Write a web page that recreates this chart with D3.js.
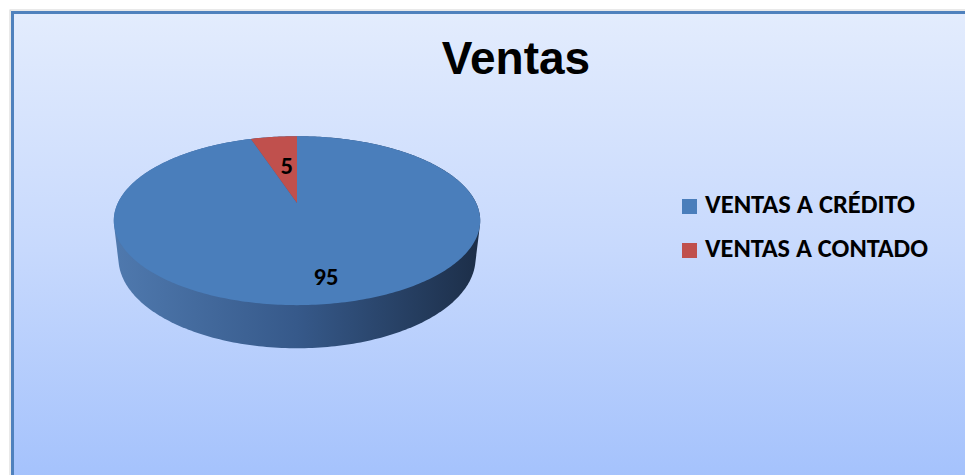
<!DOCTYPE html>
<html lang="es">
  <head>
    <meta charset="utf-8" />
    <title>Ventas</title>
    <script src="https://d3js.org/d3.v7.min.js"></script>
    <style>
      body { margin: 0; background: #fff; }
      svg { display: block; }
    </style>
  </head>
  <body>
    <div id="container"></div>
    <script>
      var title = "Ventas";
      var categories = ["VENTAS A CRÉDITO", "VENTAS A CONTADO"];
      var values = [95, 5];
      var colors = ["#4a7ebb", "#c0504d"];

      var width = 965;
      var height = 475;
      var bodyFont = "Carlito, Calibri, Lato, sans-serif";

      var svg = d3
        .select("#container")
        .append("svg")
        .attr("width", width)
        .attr("height", height);

      var defs = svg.append("defs");

      var bg = defs
        .append("linearGradient")
        .attr("id", "bg")
        .attr("x1", "0%").attr("y1", "0%")
        .attr("x2", "0%").attr("y2", "100%");
      bg.append("stop").attr("offset", "0%").attr("stop-color", "#e3ecfd");
      bg.append("stop").attr("offset", "50%").attr("stop-color", "#c7d9fd");
      bg.append("stop").attr("offset", "100%").attr("stop-color", "#a3c1fc");

      var side = defs
        .append("linearGradient")
        .attr("id", "side")
        .attr("gradientUnits", "userSpaceOnUse")
        .attr("x1", 114).attr("y1", 0)
        .attr("x2", 480).attr("y2", 0);
      side.append("stop").attr("offset", "0%").attr("stop-color", "#4f79ae");
      side.append("stop").attr("offset", "50%").attr("stop-color", "#36598a");
      side.append("stop").attr("offset", "100%").attr("stop-color", "#1c2e48");

      // chart frame
      svg.append("rect")
        .attr("x", 10).attr("y", 10)
        .attr("width", width).attr("height", height)
        .style("fill", "none")
        .style("stroke", "#d4d4d4")
        .style("stroke-width", 1);
      svg.append("rect")
        .attr("x", 12.5).attr("y", 12.5)
        .attr("width", width).attr("height", height)
        .style("fill", "url(#bg)")
        .style("stroke", "#4f81bd")
        .style("stroke-width", 3);

      svg.append("text")
        .attr("x", 516)
        .attr("y", 74)
        .attr("text-anchor", "middle")
        .style("font-family", "'Liberation Sans', Arial, sans-serif")
        .style("font-weight", "bold")
        .style("font-size", "46px")
        .text(title);

      // tilted disc seen in perspective
      var cx = 297, cy = 203, focal = 765, dist = 4.27;
      var tilt = 26.8 * Math.PI / 180;
      var ct = Math.cos(tilt), st = Math.sin(tilt);
      var thick = 0.236;

      function project(a, r, h) {
        var u = r * Math.sin(a);
        var v = -r * Math.cos(a);
        var z = dist - v * ct + h * st;
        return [cx + focal * u / z, cy + focal * (v * st + h * ct) / z];
      }

      var pie = d3.pie().sort(null);
      var arcs = pie(values);

      // side of the cylinder: hull of top and bottom rims
      var rim = [];
      for (var i = 0; i < 360; i++) {
        var a = i * Math.PI / 180;
        rim.push(project(a, 1, 0));
        rim.push(project(a, 1, thick));
      }
      var hull = d3.polygonHull(rim);
      svg.append("path")
        .attr("d", "M" + hull.join("L") + "Z")
        .style("fill", "url(#side)");

      var line = d3.line();
      svg.selectAll("path.slice")
        .data(arcs)
        .enter()
        .append("path")
        .attr("class", "slice")
        .attr("d", function (d) {
          var pts = [project(0, 0, 0)];
          var n = Math.max(2, Math.ceil((d.endAngle - d.startAngle) * 60));
          for (var k = 0; k <= n; k++) {
            pts.push(project(d.startAngle + (d.endAngle - d.startAngle) * k / n, 1, 0));
          }
          return line(pts) + "Z";
        })
        .style("fill", function (d, i) { return colors[i]; });

      var labelR = [0.78, 0.52];
      var labels = svg.selectAll("text.val")
        .data(arcs)
        .enter()
        .append("text")
        .attr("class", "val")
        .attr("x", function (d, i) { return project((d.startAngle + d.endAngle) / 2, labelR[i], 0)[0] + 3; })
        .attr("y", function (d, i) { return project((d.startAngle + d.endAngle) / 2, labelR[i], 0)[1] + 8; })
        .attr("text-anchor", "middle")
        .style("font-family", bodyFont)
        .style("font-weight", "bold")
        .style("font-size", "22px")
        .text(function (d) { return d.data; });

      // size the labels so "95" is about 25px wide, whichever font is found
      var w95 = labels.nodes()[0].getComputedTextLength();
      labels.style("font-size", (22 * 25 / w95).toFixed(1) + "px");

      // legend
      var legendLen = [210, 223];
      var legend = svg.selectAll("g.legend")
        .data(categories)
        .enter()
        .append("g")
        .attr("class", "legend")
        .attr("transform", function (d, i) { return "translate(682," + (199 + i * 44) + ")"; });
      legend.append("rect")
        .attr("width", 15)
        .attr("height", 15)
        .style("fill", function (d, i) { return colors[i]; });
      var ltext = legend.append("text")
        .attr("x", 23)
        .attr("y", 14)
        .style("font-family", bodyFont)
        .style("font-weight", "bold")
        .style("font-size", "21px")
        .text(function (d) { return d; });
      var wl = ltext.nodes()[0].getComputedTextLength();
      ltext
        .style("font-size", (21 * legendLen[0] / wl).toFixed(1) + "px")
        .attr("textLength", function (d, i) { return legendLen[i]; })
        .attr("lengthAdjust", "spacingAndGlyphs");
    </script>
  </body>
</html>
